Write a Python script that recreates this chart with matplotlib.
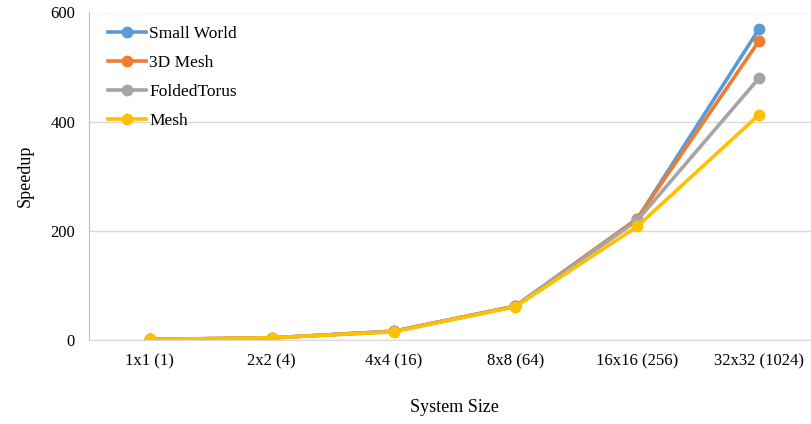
import matplotlib
matplotlib.use("Agg")
import matplotlib.pyplot as plt

plt.rcParams["font.family"] = ["Liberation Serif", "DejaVu Serif"]

# System sizes and speedup for each topology
sizes = ["1x1 (1)", "2x2 (4)", "4x4 (16)", "8x8 (64)", "16x16 (256)", "32x32 (1024)"]
small_world = [1, 4, 16, 62, 222, 570]
mesh_3d = [1, 4, 16, 62, 222, 548]
folded_torus = [1, 4, 16, 62, 219, 480]
mesh = [1, 4, 15, 61, 208, 413]

series = [
    ("Small World", small_world, "#5b9bd5"),
    ("3D Mesh", mesh_3d, "#ed7d31"),
    ("FoldedTorus", folded_torus, "#a5a5a5"),
    ("Mesh", mesh, "#ffc000"),
]

fig = plt.figure(figsize=(8.11, 4.24), dpi=100)
ax = fig.add_axes([89 / 811, 1 - 340 / 424, (820 - 89) / 811, (340 - 12.5) / 424])

x = range(len(sizes))
for name, vals, col in series:
    ax.plot(x, vals, color=col, lw=2.6, marker="o", ms=7.5, label=name)

ax.set_xlim(-0.5, len(sizes) - 0.5)
ax.set_ylim(0, 600)
ax.set_yticks([0, 200, 400, 600])
ax.set_xticks(list(x))
ax.set_xticklabels(sizes)
ax.tick_params(length=0, labelsize=12)
ax.tick_params(axis="x", pad=10)
ax.tick_params(axis="y", pad=10)
ax.grid(axis="y", color="#d9d9d9", lw=1)
ax.set_axisbelow(True)
for s in ["top", "right"]:
    ax.spines[s].set_visible(False)
ax.spines["left"].set_color("#bfbfbf")
ax.spines["bottom"].set_color("#d9d9d9")

ax.set_ylabel("Speedup", fontsize=13, labelpad=12)
ax.set_xlabel("System Size", fontsize=13, labelpad=21)

ax.legend(loc="upper left", bbox_to_anchor=(0.005, 1.008), frameon=False, fontsize=12.5,
          handlelength=2.2, handletextpad=0.15, labelspacing=0.75)

fig.savefig("out.png", dpi=100)
